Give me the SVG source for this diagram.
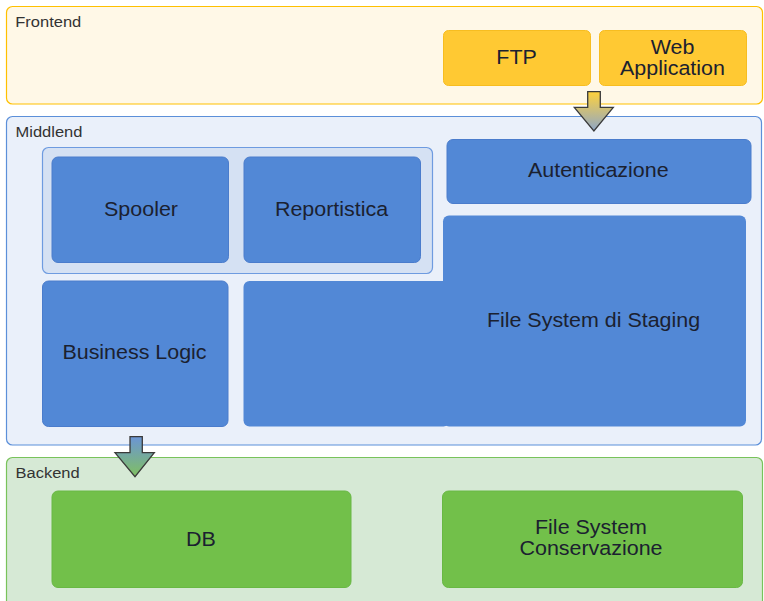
<svg xmlns="http://www.w3.org/2000/svg" width="764" height="601" viewBox="0 0 764 601">
<style>
.lane-label{font-family:"Liberation Sans",Arial,sans-serif;font-size:15px;fill:#333}
.t{font-family:"Liberation Sans",Arial,sans-serif;font-size:19.5px;fill:#1b2130;text-anchor:middle}
.yel{fill:#ffc933;stroke:#f7bd20;stroke-width:1}
.blue{fill:#5288d6;stroke:#4a7ccc;stroke-width:1}
.green{fill:#72c04a;stroke:#69b844;stroke-width:1}
.arrow{stroke:#3a3a3a;stroke-width:1.3}
</style>
<defs>
<linearGradient id="g1" x1="0" y1="0" x2="0" y2="1">
<stop offset="0" stop-color="#ffd23c"/>
<stop offset="1" stop-color="#8ea6c8"/>
</linearGradient>
<linearGradient id="g2" x1="0" y1="0" x2="0" y2="1">
<stop offset="0" stop-color="#6b95d6"/>
<stop offset="1" stop-color="#80c060"/>
</linearGradient>
</defs>
<rect width="764" height="601" fill="#ffffff"/>

<g id="frontend">
<rect x="6.5" y="6.5" width="756" height="97.5" rx="6" fill="#fff8e7" stroke="#ffc000" stroke-width="1.2"/>
<text class="lane-label" transform="translate(15.3,27.3) scale(1.1,1)">Frontend</text>
</g>
<g id="middlend">
<rect x="6.5" y="116.5" width="755" height="328.5" rx="6" fill="#eaf0fa" stroke="#5b8fd9" stroke-width="1.2"/>
<text class="lane-label" transform="translate(15.5,136.7) scale(1.1,1)">Middlend</text>
</g>
<g id="backend">
<rect x="6.5" y="457.5" width="756" height="150" rx="6" fill="#d6e9d5" stroke="#78c35a" stroke-width="1.2"/>
<text class="lane-label" transform="translate(15.5,477.5) scale(1.1,1)">Backend</text>
</g>

<g id="ftp">
<rect class="yel" x="443.5" y="30.5" width="147" height="55" rx="5"/>
<text class="t" transform="translate(516.6,64.4) scale(1.1,1)">FTP</text>
</g>
<g id="webapp">
<rect class="yel" x="599.5" y="30.5" width="147" height="55" rx="5"/>
<text class="t" transform="translate(672.5,54) scale(1.1,1)">Web</text>
<text class="t" transform="translate(672.5,75) scale(1.1,1)">Application</text>
</g>

<g id="group-spooler-report">
<rect x="42.5" y="147.5" width="390" height="126" rx="6" fill="#d5e1f3" stroke="#6e9be0" stroke-width="1.2"/>
</g>
<g id="spooler">
<rect class="blue" x="52" y="157" width="176.5" height="105.5" rx="6"/>
<text class="t" transform="translate(141,216) scale(1.1,1)">Spooler</text>
</g>
<g id="reportistica">
<rect class="blue" x="244" y="157" width="176.5" height="105.5" rx="6"/>
<text class="t" transform="translate(331.5,216) scale(1.1,1)">Reportistica</text>
</g>
<g id="autenticazione">
<rect class="blue" x="447" y="139.5" width="304" height="64" rx="6"/>
<text class="t" transform="translate(598.3,177) scale(1.1,1)">Autenticazione</text>
</g>
<g id="business-logic">
<rect class="blue" x="42.5" y="281" width="185.5" height="145.5" rx="6"/>
<text class="t" transform="translate(134.5,359) scale(1.1,1)">Business Logic</text>
</g>
<g id="file-system-staging">
<rect x="243.5" y="281" width="206" height="145.5" rx="6" fill="#5288d6"/>
<rect x="443" y="215.5" width="303" height="211" rx="6" fill="#5288d6"/>
<text class="t" transform="translate(593.5,327.3) scale(1.1,1)">File System di Staging</text>
</g>

<g id="db">
<rect class="green" x="52" y="491" width="299" height="96.5" rx="6"/>
<text class="t" transform="translate(201,546) scale(1.1,1)">DB</text>
</g>
<g id="fs-conservazione">
<rect class="green" x="442.5" y="491" width="300" height="96.5" rx="6"/>
<text class="t" transform="translate(591,534) scale(1.1,1)">File System</text>
<text class="t" transform="translate(591,555) scale(1.1,1)">Conservazione</text>
</g>

<g id="connectors">
<path class="arrow" fill="url(#g1)" d="M587.7,91.7 H600.3 V107.3 H613.3 L593.9,131 L574.3,107.3 H587.7 Z"/>
<path class="arrow" fill="url(#g2)" d="M130,436.7 H142.3 V452.7 H154.3 L135,476.7 L115,452.7 H130 Z"/>
</g>
</svg>
